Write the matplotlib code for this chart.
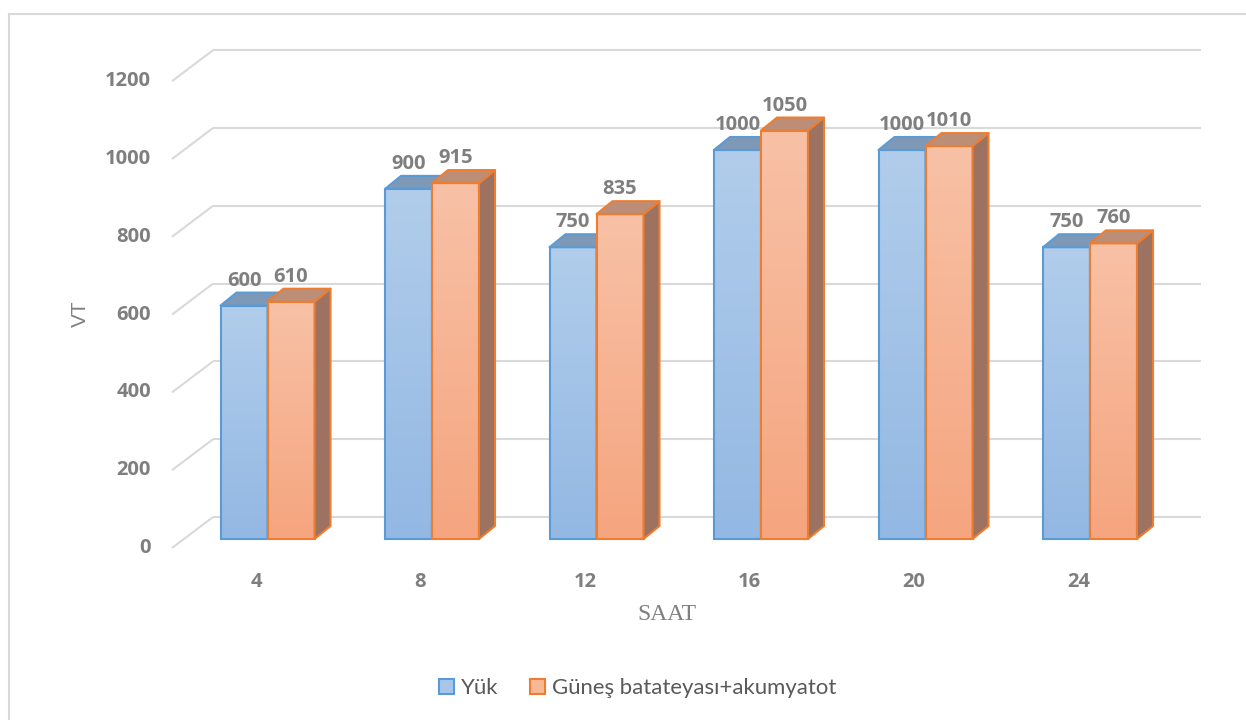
import numpy as np
import matplotlib
matplotlib.use("Agg")
import matplotlib.pyplot as plt
from matplotlib.patches import Polygon, Patch
from matplotlib.lines import Line2D
from matplotlib.colors import LinearSegmentedColormap

# ---- data ----
hours = ["4", "8", "12", "16", "20", "24"]
load = [600, 900, 750, 1000, 1000, 750]
solar_battery = [610, 915, 835, 1050, 1010, 760]
series_names = ["Yük", "Güneş batateyası+akumyatot"]
y_ticks = [0, 200, 400, 600, 800, 1000, 1200]

W, H = 1246, 720
fig = plt.figure(figsize=(W / 100, H / 100), dpi=100)
ax = fig.add_axes([0, 0, 1, 1])
ax.set_axis_off()

# pixel geometry of the pseudo-3D plot
PX = 164.5     # pixels per category
PY = 0.389     # pixels per unit of value
OX, OY = 267.5, 539.0   # pixel position of category 0 at value 0 (bar front plane)


def dx(px):
    return px / PX


def dy(px):
    return px / PY


GRID = "#D9D9D9"
TXT = "#7F7F7F"
NUM_FONT = dict(fontsize=14.5, fontweight="bold", color=TXT, family="Open Sans")

# back wall gridlines and side-wall diagonals
wall_x0, wall_x1 = dx(213 - OX), dx(1201 - OX)
side_x = dx(172 - OX)
back_off, front_off = dy(22), dy(-9)
for v in y_ticks:
    ax.plot([wall_x0, wall_x1], [v + back_off, v + back_off], color=GRID, lw=1.5, zorder=1,
            solid_capstyle="butt")
    ax.plot([side_x, wall_x0], [v + front_off, v + back_off], color=GRID, lw=1.5, zorder=1,
            solid_capstyle="butt")
    ax.text(dx(151 - OX), v + front_off, str(v), ha="right", va="center", **NUM_FONT)

# bars
bw = dx(47)
depth_x, depth_y = dx(16), dy(13)
styles = [
    dict(edge="#5B9BD5", top_c="#B1CDEB", bot_c="#93B8E3", lid="#7E99B7", side="#6F8CAF"),
    dict(edge="#ED7D31", top_c="#F8C1A6", bot_c="#F5A57F", lid="#BC8E78", side="#9D7260"),
]
grad = np.linspace(0, 1, 256).reshape(-1, 1)
x = np.arange(len(hours))

for s, (vals, st) in enumerate(zip([load, solar_battery], styles)):
    offs = (-bw / 2) if s == 0 else (bw / 2)
    cmap = LinearSegmentedColormap.from_list("g%d" % s, [st["bot_c"], st["top_c"]])
    bars = ax.bar(x + offs, vals, width=bw, facecolor="none", edgecolor=st["edge"],
                  linewidth=1.5, zorder=3 + 2 * s)
    for b, v in zip(bars, vals):
        x0 = b.get_x()
        x1 = x0 + b.get_width()
        ax.imshow(grad, extent=(x0, x1, 0, v), origin="lower", aspect="auto",
                  cmap=cmap, zorder=2.9 + 2 * s, interpolation="bilinear")
        lid = Polygon([(x0, v), (x1, v), (x1 + depth_x, v + depth_y), (x0 + depth_x, v + depth_y)],
                      closed=True, facecolor=st["lid"], edgecolor=st["edge"], lw=1.5,
                      joinstyle="round", zorder=3 + 2 * s)
        side = Polygon([(x1, 0), (x1 + depth_x, depth_y), (x1 + depth_x, v + depth_y), (x1, v)],
                       closed=True, facecolor=st["side"], edgecolor=st["edge"], lw=1.5,
                       joinstyle="round", zorder=3 + 2 * s)
        ax.add_patch(side)
        ax.add_patch(lid)
        ax.text(x0 + b.get_width() / 2, v + dy(25), str(v), ha="center", va="center",
                zorder=10, **NUM_FONT)

# category labels
for i, h in enumerate(hours):
    ax.text(i + dx(-11.5), dy(OY - 582), h, ha="center", va="center", **NUM_FONT)

# axis titles
ax.text(dx(80 - OX), dy(OY - 314), "VT", rotation=90, ha="center", va="center",
        fontsize=15, color=TXT, family="Liberation Sans")
ax.text(dx(667 - OX), dy(OY - 615), "SAAT", ha="center", va="center",
        fontsize=17, color=TXT, family="Liberation Serif")

ax.set_xlim(dx(0 - OX), dx(W - OX))
ax.set_ylim(dy(OY - H), dy(OY))

# legend
handles = [Patch(facecolor="#A9C6EA", edgecolor="#5B9BD5", lw=1.5, label=series_names[0]),
           Patch(facecolor="#F8B896", edgecolor="#ED7D31", lw=1.5, label=series_names[1])]
leg = fig.legend(handles=handles, loc="center", bbox_to_anchor=(637.5 / W, 1 - 688 / H), ncol=2,
                 frameon=False, handlelength=0.7, handleheight=0.7, handletextpad=0.3,
                 columnspacing=1.4, prop={"family": "Lato", "size": 15.9})
for t in leg.get_texts():
    t.set_color("#595959")

# chart border
fig.add_artist(Line2D([8.5 / W, 8.5 / W], [0, 1 - 13.5 / H], transform=fig.transFigure,
                      color=GRID, lw=1.5))
fig.add_artist(Line2D([8.5 / W, 1], [1 - 13.5 / H, 1 - 13.5 / H], transform=fig.transFigure,
                      color=GRID, lw=1.5))

fig.savefig("out.png", dpi=100, facecolor="white")
